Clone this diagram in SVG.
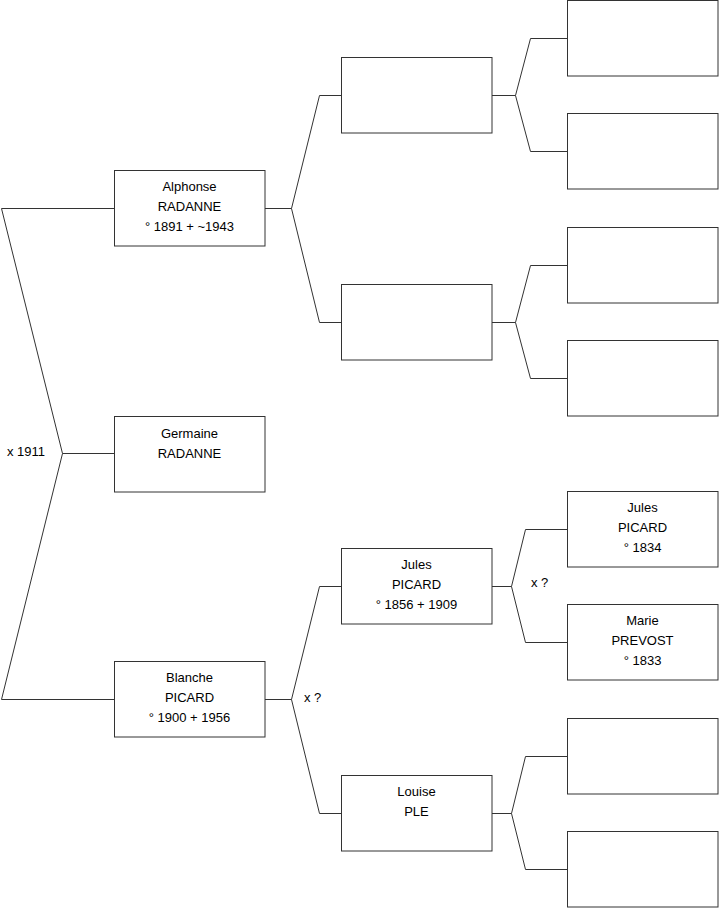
<svg xmlns="http://www.w3.org/2000/svg" width="719" height="908" viewBox="0 0 719 908">
<style>
.box{fill:#fff;stroke:#333;stroke-width:1}
.ln{fill:none;stroke:#333;stroke-width:1}
text{font-family:"Liberation Sans",Arial,sans-serif;font-size:13px;fill:#000}
.c{text-anchor:middle}
</style>
<rect width="719" height="908" fill="#fff"/>
<g id="connectors">
<polyline class="ln" points="114,208.5 1.5,208.5 62.5,453.5 1.5,699.5 114,699.5"/>
<line class="ln" x1="62.5" y1="453.5" x2="114" y2="453.5"/>
<polyline class="ln" points="341,95.5 319.5,95.5 291.5,208.5 319.5,322.5 341,322.5"/>
<line class="ln" x1="265" y1="208.5" x2="291.5" y2="208.5"/>
<polyline class="ln" points="341,586.5 319.5,586.5 291.5,699.5 319.5,813.5 341,813.5"/>
<line class="ln" x1="265" y1="699.5" x2="291.5" y2="699.5"/>
<polyline class="ln" points="567,38.5 530.5,38.5 515.5,95.5 530.5,151.5 567,151.5"/>
<line class="ln" x1="492" y1="95.5" x2="515.5" y2="95.5"/>
<polyline class="ln" points="567,265.5 530.5,265.5 515.5,322.5 530.5,378.5 567,378.5"/>
<line class="ln" x1="492" y1="322.5" x2="515.5" y2="322.5"/>
<polyline class="ln" points="567,529.5 525.5,529.5 511.5,586.5 525.5,642.5 567,642.5"/>
<line class="ln" x1="492" y1="586.5" x2="511.5" y2="586.5"/>
<polyline class="ln" points="567,756.5 525.5,756.5 511.5,813.5 525.5,869.5 567,869.5"/>
<line class="ln" x1="492" y1="813.5" x2="511.5" y2="813.5"/>
<text x="7" y="456">x 1911</text>
<text x="304" y="702">x ?</text>
<text x="531" y="587">x ?</text>
</g>
<g id="alphonse"><rect class="box" x="114.5" y="170.5" width="150.5" height="75.5"/>
<text class="c" x="189.5" y="191">Alphonse</text><text class="c" x="189.5" y="211">RADANNE</text><text class="c" x="189.5" y="231">° 1891 + ~1943</text></g>
<g id="germaine"><rect class="box" x="114.5" y="416.5" width="150.5" height="75.5"/>
<text class="c" x="189.5" y="438">Germaine</text><text class="c" x="189.5" y="458">RADANNE</text></g>
<g id="blanche"><rect class="box" x="114.5" y="661.5" width="150.5" height="75.5"/>
<text class="c" x="189.5" y="682">Blanche</text><text class="c" x="189.5" y="702">PICARD</text><text class="c" x="189.5" y="722">° 1900 + 1956</text></g>
<g id="g2a"><rect class="box" x="341.5" y="57.5" width="150.5" height="75.5"/></g>
<g id="g2b"><rect class="box" x="341.5" y="284.5" width="150.5" height="75.5"/></g>
<g id="jules2"><rect class="box" x="341.5" y="548.5" width="150.5" height="75.5"/>
<text class="c" x="416.5" y="569">Jules</text><text class="c" x="416.5" y="589">PICARD</text><text class="c" x="416.5" y="609">° 1856 + 1909</text></g>
<g id="louise"><rect class="box" x="341.5" y="775.5" width="150.5" height="75.5"/>
<text class="c" x="416.5" y="796">Louise</text><text class="c" x="416.5" y="816">PLE</text></g>
<g id="g3a"><rect class="box" x="567.5" y="0.5" width="150.5" height="75.5"/></g>
<g id="g3b"><rect class="box" x="567.5" y="113.5" width="150.5" height="75.5"/></g>
<g id="g3c"><rect class="box" x="567.5" y="227.5" width="150.5" height="75.5"/></g>
<g id="g3d"><rect class="box" x="567.5" y="340.5" width="150.5" height="75.5"/></g>
<g id="jules3"><rect class="box" x="567.5" y="491.5" width="150.5" height="75.5"/>
<text class="c" x="642.5" y="512">Jules</text><text class="c" x="642.5" y="532">PICARD</text><text class="c" x="642.5" y="552">° 1834</text></g>
<g id="marie"><rect class="box" x="567.5" y="604.5" width="150.5" height="75.5"/>
<text class="c" x="642.5" y="625">Marie</text><text class="c" x="642.5" y="645">PREVOST</text><text class="c" x="642.5" y="665">° 1833</text></g>
<g id="g3g"><rect class="box" x="567.5" y="718.5" width="150.5" height="75.5"/></g>
<g id="g3h"><rect class="box" x="567.5" y="831.5" width="150.5" height="75.5"/></g>
</svg>
